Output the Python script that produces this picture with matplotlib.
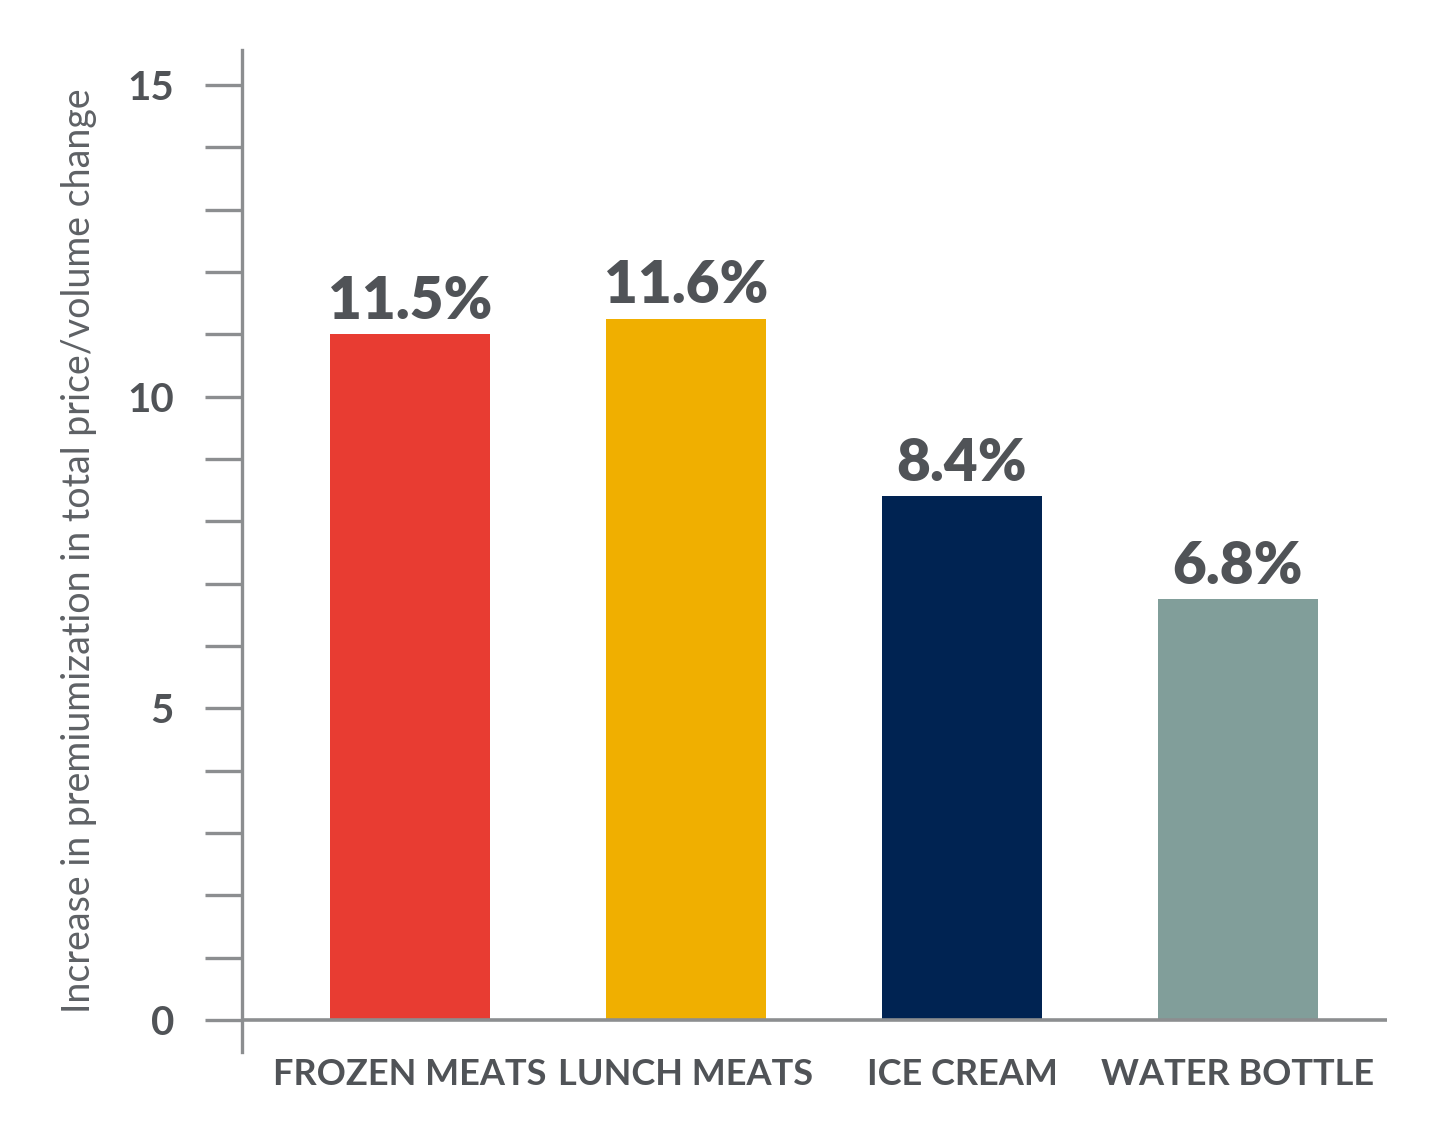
import matplotlib.pyplot as plt

categories = ["FROZEN MEATS", "LUNCH MEATS", "ICE CREAM", "WATER BOTTLE"]
bar_heights = [11.0, 11.25, 8.4, 6.75]
value_labels = ["11.5%", "11.6%", "8.4%", "6.8%"]
bar_colors = ["#E83C32", "#F0AF00", "#002352", "#819E9A"]
y_major = [0, 5, 10, 15]
y_minor = list(range(0, 16))

AXIS_GRAY = "#8C8E90"
TEXT_GRAY = "#505357"

plt.rcParams["font.family"] = ["Lato", "DejaVu Sans"]

fig = plt.figure(figsize=(14.4, 11.46), dpi=100)
ax = fig.add_axes([242 / 1440, 1 - 1052 / 1146, (1387 - 242) / 1440, (1052 - 50) / 1146])

x = list(range(len(categories)))
ax.bar(x, bar_heights, width=0.58, color=bar_colors, zorder=2)

for xi, h, lab in zip(x, bar_heights, value_labels):
    ax.text(xi, h + 0.1, lab, ha="center", va="bottom", fontsize=42,
            fontweight="heavy", color=TEXT_GRAY)

ax.set_xlim(-0.609, 3.54)
ax.set_ylim(-0.513, 15.56)

# baseline at zero, same gray as the axis
ax.axhline(0, color=AXIS_GRAY, lw=2.6, zorder=3)

for s in ["top", "right", "bottom"]:
    ax.spines[s].set_visible(False)
ax.spines["left"].set_color(AXIS_GRAY)
ax.spines["left"].set_linewidth(2.4)

ax.set_yticks(y_minor)
ax.set_yticklabels([str(v) if v in y_major else "" for v in y_minor])
ax.tick_params(axis="y", length=27, width=2.4, color=AXIS_GRAY, pad=22,
               labelsize=29, labelcolor=TEXT_GRAY)
for t in ax.get_yticklabels():
    t.set_fontweight("bold")

ax.set_xticks(x)
ax.set_xticklabels(categories, fontsize=26, fontweight="bold", color=TEXT_GRAY)
ax.tick_params(axis="x", length=0, pad=4)

ax.set_ylabel("Increase in premiumization in total price/volume change",
              fontsize=27, color="#5E6165", labelpad=22)

fig.savefig("out.png", dpi=100, facecolor="white")
